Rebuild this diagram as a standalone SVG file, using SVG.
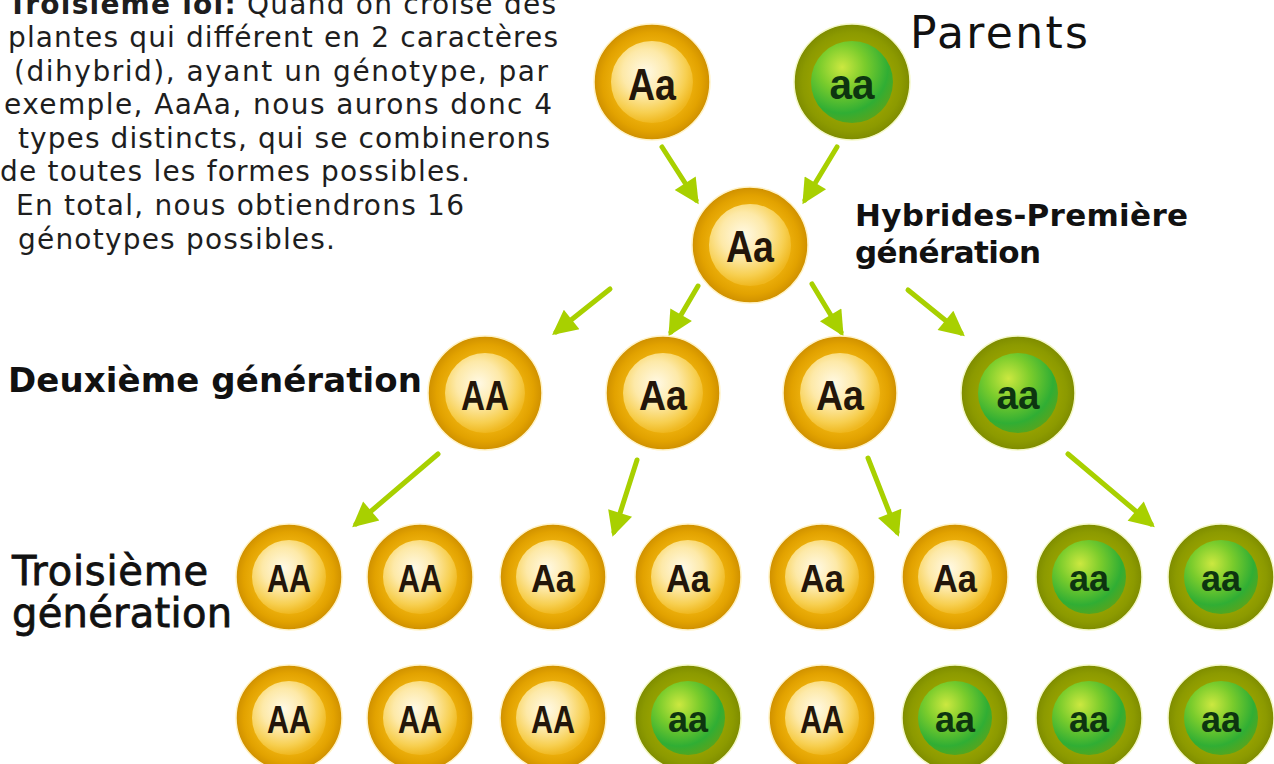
<svg xmlns="http://www.w3.org/2000/svg" width="1274" height="764" viewBox="0 0 1274 764">
<style>
.para{font-family:"DejaVu Sans","Verdana",sans-serif;font-size:28px;fill:#1e1e1e}
.b{font-weight:bold}
.title{font-family:"DejaVu Sans","Verdana",sans-serif;fill:#111}
.lbl{font-family:"Liberation Sans Narrow","Liberation Sans",Arial,sans-serif;font-weight:bold;text-anchor:middle;fill:#23160a}
.lblg{font-family:"Liberation Sans Narrow","Liberation Sans",Arial,sans-serif;font-weight:bold;text-anchor:middle;fill:#0d3510}
.gring{fill:url(#gRing);stroke:#fff3c8;stroke-width:1.5}
.gcore{fill:url(#gCore)}
.vring{fill:url(#vRing);stroke:#f4f8c8;stroke-width:1.5}
.vcore{fill:url(#vCore)}
.arr{stroke:#a8d000;stroke-width:5;fill:none;stroke-linecap:round;marker-end:url(#ah)}
</style>
<defs>
<radialGradient id="gRing" cx="0.5" cy="0.5" r="0.5">
<stop offset="0.6" stop-color="#f0b410"/>
<stop offset="0.85" stop-color="#e2a200"/>
<stop offset="1" stop-color="#cf9000"/>
</radialGradient>
<radialGradient id="gCore" cx="0.42" cy="0.38" r="0.62">
<stop offset="0" stop-color="#fff9e4"/>
<stop offset="0.45" stop-color="#fde9a8"/>
<stop offset="0.8" stop-color="#f7cf50"/>
<stop offset="1" stop-color="#efb820"/>
</radialGradient>
<radialGradient id="vRing" cx="0.5" cy="0.5" r="0.5">
<stop offset="0.6" stop-color="#9aa400"/>
<stop offset="0.85" stop-color="#8c9a00"/>
<stop offset="1" stop-color="#7e8c00"/>
</radialGradient>
<radialGradient id="vCore" cx="0.38" cy="0.32" r="0.7">
<stop offset="0" stop-color="#cce840"/>
<stop offset="0.4" stop-color="#7acc2c"/>
<stop offset="0.8" stop-color="#30ae34"/>
<stop offset="1" stop-color="#52a620"/>
</radialGradient>
<marker id="ah" viewBox="0 0 10 10" refX="8" refY="5" markerWidth="5.5" markerHeight="5" orient="auto" markerUnits="strokeWidth">
<path d="M0,0 L10,5 L0,10 z" fill="#a8d000"/>
</marker>
</defs>
<rect width="1274" height="764" fill="#ffffff"/>

<g id="text-intro" class="para">
<text x="8" y="14" textLength="548" lengthAdjust="spacing"><tspan class="b">Troisième loi:</tspan> Quand on croise des</text>
<text x="8" y="47" textLength="550" lengthAdjust="spacing">plantes qui différent en 2 caractères</text>
<text x="14" y="81" textLength="534" lengthAdjust="spacing">(dihybrid), ayant un génotype, par</text>
<text x="4" y="114" textLength="548" lengthAdjust="spacing">exemple, AaAa, nous aurons donc 4</text>
<text x="18" y="148" textLength="532" lengthAdjust="spacing">types distincts, qui se combinerons</text>
<text x="0" y="181" textLength="470" lengthAdjust="spacing">de toutes les formes possibles.</text>
<text x="16" y="215" textLength="448" lengthAdjust="spacing">En total, nous obtiendrons 16</text>
<text x="18" y="249" textLength="317" lengthAdjust="spacing">génotypes possibles.</text>
</g>

<g id="labels" class="title">
<text x="910" y="48" font-size="44" textLength="178" lengthAdjust="spacing">Parents</text>
<text x="855" y="226" font-size="31" font-weight="bold" textLength="333" lengthAdjust="spacing">Hybrides-Première</text>
<text x="855" y="263" font-size="31" font-weight="bold" textLength="186" lengthAdjust="spacing">génération</text>
<text x="8" y="392" font-size="34" font-weight="bold" textLength="414" lengthAdjust="spacing">Deuxième génération</text>
<text x="12" y="585" font-size="40" stroke="#111" stroke-width="0.8" textLength="196" lengthAdjust="spacing">Troisième</text>
<text x="12" y="627" font-size="40" stroke="#111" stroke-width="0.8" textLength="220" lengthAdjust="spacing">génération</text>
</g>

<g id="connectors">
<line class="arr" x1="662" y1="147" x2="696" y2="200"/>
<line class="arr" x1="837" y1="147" x2="805" y2="200"/>
<line class="arr" x1="610" y1="289" x2="556" y2="332"/>
<line class="arr" x1="698" y1="286" x2="671" y2="332"/>
<line class="arr" x1="812" y1="284" x2="841" y2="332"/>
<line class="arr" x1="908" y1="290" x2="961" y2="333"/>
<line class="arr" x1="438" y1="454" x2="356" y2="524"/>
<line class="arr" x1="637" y1="460" x2="614" y2="532"/>
<line class="arr" x1="868" y1="458" x2="897" y2="532"/>
<line class="arr" x1="1068" y1="454" x2="1151" y2="524"/>
</g>

<g id="p1" transform="translate(652,82)"><circle class="gring" r="58"/><circle class="gcore" r="41"/><text class="lbl" y="18" font-size="44" textLength="48" lengthAdjust="spacingAndGlyphs">Aa</text></g>
<g id="p2" transform="translate(852,82)"><circle class="vring" r="58"/><circle class="vcore" r="41"/><text class="lblg" y="17" font-size="42" textLength="45" lengthAdjust="spacingAndGlyphs">aa</text></g>

<g id="f1" transform="translate(750,245)"><circle class="gring" r="58"/><circle class="gcore" r="41"/><text class="lbl" y="17" font-size="44" textLength="48" lengthAdjust="spacingAndGlyphs">Aa</text></g>

<g id="g2-1" transform="translate(485,393)"><circle class="gring" r="57"/><circle class="gcore" r="40"/><text class="lbl" y="17" font-size="42" textLength="48" lengthAdjust="spacingAndGlyphs">AA</text></g>
<g id="g2-2" transform="translate(663,393)"><circle class="gring" r="57"/><circle class="gcore" r="40"/><text class="lbl" y="17" font-size="42" textLength="48" lengthAdjust="spacingAndGlyphs">Aa</text></g>
<g id="g2-3" transform="translate(840,393)"><circle class="gring" r="57"/><circle class="gcore" r="40"/><text class="lbl" y="17" font-size="42" textLength="48" lengthAdjust="spacingAndGlyphs">Aa</text></g>
<g id="g2-4" transform="translate(1018,393)"><circle class="vring" r="57"/><circle class="vcore" r="40"/><text class="lblg" y="16" font-size="40" textLength="43" lengthAdjust="spacingAndGlyphs">aa</text></g>

<g id="g3-1" transform="translate(289,577)"><circle class="gring" r="53"/><circle class="gcore" r="37"/><text class="lbl" y="15" font-size="38" textLength="44" lengthAdjust="spacingAndGlyphs">AA</text></g>
<g id="g3-2" transform="translate(420,577)"><circle class="gring" r="53"/><circle class="gcore" r="37"/><text class="lbl" y="15" font-size="38" textLength="44" lengthAdjust="spacingAndGlyphs">AA</text></g>
<g id="g3-3" transform="translate(553,577)"><circle class="gring" r="53"/><circle class="gcore" r="37"/><text class="lbl" y="15" font-size="38" textLength="44" lengthAdjust="spacingAndGlyphs">Aa</text></g>
<g id="g3-4" transform="translate(688,577)"><circle class="gring" r="53"/><circle class="gcore" r="37"/><text class="lbl" y="15" font-size="38" textLength="44" lengthAdjust="spacingAndGlyphs">Aa</text></g>
<g id="g3-5" transform="translate(822,577)"><circle class="gring" r="53"/><circle class="gcore" r="37"/><text class="lbl" y="15" font-size="38" textLength="44" lengthAdjust="spacingAndGlyphs">Aa</text></g>
<g id="g3-6" transform="translate(955,577)"><circle class="gring" r="53"/><circle class="gcore" r="37"/><text class="lbl" y="15" font-size="38" textLength="44" lengthAdjust="spacingAndGlyphs">Aa</text></g>
<g id="g3-7" transform="translate(1089,577)"><circle class="vring" r="53"/><circle class="vcore" r="37"/><text class="lblg" y="14" font-size="36" textLength="40" lengthAdjust="spacingAndGlyphs">aa</text></g>
<g id="g3-8" transform="translate(1221,577)"><circle class="vring" r="53"/><circle class="vcore" r="37"/><text class="lblg" y="14" font-size="36" textLength="40" lengthAdjust="spacingAndGlyphs">aa</text></g>

<g id="g3-9" transform="translate(289,718)"><circle class="gring" r="53"/><circle class="gcore" r="37"/><text class="lbl" y="15" font-size="38" textLength="44" lengthAdjust="spacingAndGlyphs">AA</text></g>
<g id="g3-10" transform="translate(420,718)"><circle class="gring" r="53"/><circle class="gcore" r="37"/><text class="lbl" y="15" font-size="38" textLength="44" lengthAdjust="spacingAndGlyphs">AA</text></g>
<g id="g3-11" transform="translate(553,718)"><circle class="gring" r="53"/><circle class="gcore" r="37"/><text class="lbl" y="15" font-size="38" textLength="44" lengthAdjust="spacingAndGlyphs">AA</text></g>
<g id="g3-12" transform="translate(688,718)"><circle class="vring" r="53"/><circle class="vcore" r="37"/><text class="lblg" y="14" font-size="36" textLength="40" lengthAdjust="spacingAndGlyphs">aa</text></g>
<g id="g3-13" transform="translate(822,718)"><circle class="gring" r="53"/><circle class="gcore" r="37"/><text class="lbl" y="15" font-size="38" textLength="44" lengthAdjust="spacingAndGlyphs">AA</text></g>
<g id="g3-14" transform="translate(955,718)"><circle class="vring" r="53"/><circle class="vcore" r="37"/><text class="lblg" y="14" font-size="36" textLength="40" lengthAdjust="spacingAndGlyphs">aa</text></g>
<g id="g3-15" transform="translate(1089,718)"><circle class="vring" r="53"/><circle class="vcore" r="37"/><text class="lblg" y="14" font-size="36" textLength="40" lengthAdjust="spacingAndGlyphs">aa</text></g>
<g id="g3-16" transform="translate(1221,718)"><circle class="vring" r="53"/><circle class="vcore" r="37"/><text class="lblg" y="14" font-size="36" textLength="40" lengthAdjust="spacingAndGlyphs">aa</text></g>
</svg>
